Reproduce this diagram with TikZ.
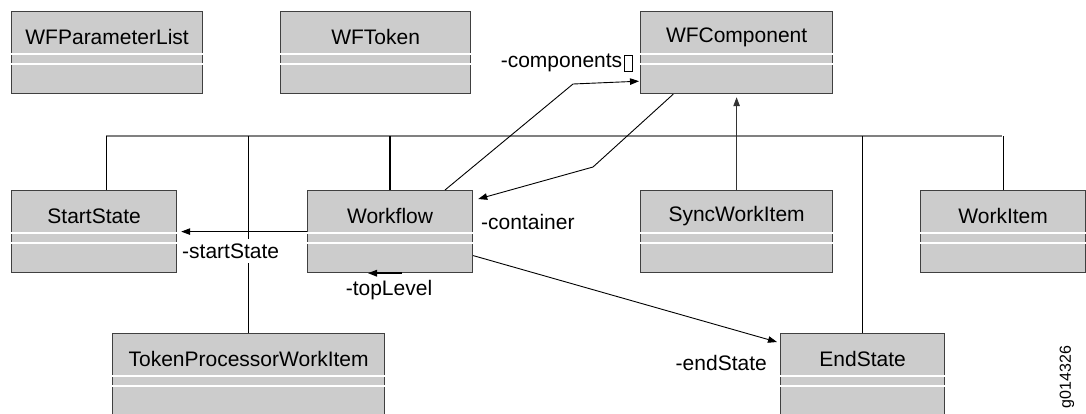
\documentclass[tikz,border=0pt]{standalone}
\usepackage{fontspec}
\setmainfont{Liberation Sans}
\usetikzlibrary{arrows.meta,calc}

\definecolor{boxfill}{gray}{0.80}
\definecolor{boxline}{gray}{0.25}
\definecolor{busgray}{gray}{0.50}

\tikzset{
  clsbox/.style={rectangle, draw=boxline, fill=boxfill, line width=1.2pt, inner sep=0pt},
  clstitle/.style={font=\fontsize{21pt}{25pt}\selectfont, text=black, inner sep=0pt},
  divider/.style={draw=white, line width=2pt},
  assoc/.style={draw=black, line width=0.9pt, -{Triangle[length=9pt,width=6.5pt]}},
  role/.style={font=\fontsize{21pt}{25pt}\selectfont, inner sep=1pt},
  busline/.style={draw=busgray, line width=1.6pt},
  branch/.style={draw=black, line width=1pt},
  branchthick/.style={draw=black, line width=1.6pt},
}

% class box: name, left, top, width, height, title
\newcommand\umlclass[6]{%
  \node[clsbox, minimum width=#4pt, minimum height=#5pt, anchor=north west] (#1) at (#2,#3) {};
  \node[clstitle] (#1-t) at ([yshift=-26pt]#1.north) {#6};
  \draw[divider] ([yshift=-43pt]#1.north west) -- ([yshift=-43pt]#1.north east);
  \draw[divider] ([yshift=-53pt]#1.north west) -- ([yshift=-53pt]#1.north east);
}

\begin{document}
\begin{tikzpicture}[x=1pt, y=-1pt]
\useasboundingbox (0,0) rectangle (1086,413);
\clip (0,0) rectangle (1086,413);

% classes
\umlclass{pl}{11}{11}{191}{82}{WFParameterList}
\umlclass{tok}{280}{11}{190}{82}{WFToken}
\umlclass{wfc}{640}{11}{192}{82}{WFComponent}
\umlclass{ss}{11}{190}{165}{82}{StartState}
\umlclass{wf}{307}{190}{165}{82}{Workflow}
\umlclass{swi}{640}{190}{192}{82}{SyncWorkItem}
\umlclass{wi}{920}{190}{165}{82}{WorkItem}
\umlclass{tpw}{112}{333}{272}{82}{TokenProcessorWorkItem}
\umlclass{es}{780}{333}{164}{82}{EndState}

% inheritance bus
\coordinate (busL) at (106,136);
\coordinate (busR) at (1002,136);
\draw[busline] (busL) -- (busR);
\draw[branch] (busL |- ss.north) -- (busL);
\draw[branchthick] (wf.north) -- (wf.north |- busL);
\draw[branchthick] (tpw.north) -- (tpw.north |- busL);
\draw[branch] (es.north) -- (es.north |- busL);
\draw[branch] (wi.north) -- (wi.north |- busL);
\draw[assoc, draw=black!80, shorten >=3pt] (swi.north) -- (wfc.south);

% associations
\coordinate (cbend) at (573,84);
\draw[assoc] ([xshift=138pt]wf.north west) -- (cbend) -- ([shift={(-1pt,13pt)}]wfc.south west);
\coordinate (kbend) at (593,167);
\draw[assoc] ([xshift=-160pt]wfc.south east) -- (kbend) -- ([shift={(5pt,-9pt)}]wf.north east);
\draw[assoc, shorten >=4pt] (wf.west) -- (ss.east);
\draw[assoc] ([yshift=-24pt]wf.east) -- ([shift={(-3pt,-9pt)}]es.north west);
\draw[assoc, line width=1.6pt] ([xshift=95pt]wf.south west) -- ([xshift=61pt]wf.south west);

% role names
\node[role, anchor=base east] (lcomp) at (634,67)
  {-components\hspace{2pt}\raisebox{-4pt}{\setlength{\fboxsep}{0pt}\setlength{\fboxrule}{0.8pt}\fbox{\rule{0pt}{15pt}\hspace{7pt}}}};
\node[role, anchor=west] (lcont) at (480,222) {-container};
\node[role, anchor=west, fill=white, inner ysep=5pt] (lstart) at (181,251) {-startState};
\node[role] (ltop) at (389,290) {-topLevel};
\node[role, anchor=east] (lend) at (768,363) {-endState};

% figure id
\node[font=\fontsize{16pt}{19pt}\selectfont, rotate=90, inner sep=0pt] (fid) at (1067,377) {g014326};
\end{tikzpicture}
\end{document}
